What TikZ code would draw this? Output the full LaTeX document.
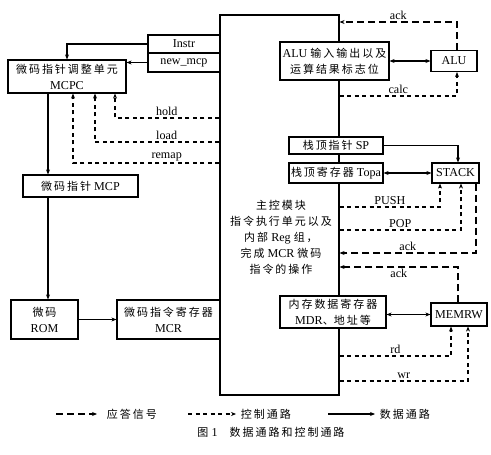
\documentclass[tikz,border=0pt]{standalone}
\usepackage{fontspec}
\setmainfont{Liberation Serif}[Scale=1.1]
\newfontfamily\zhfont[LetterSpace=18]{Noto Sans CJK SC}
\newfontfamily\zhtight{Noto Sans CJK SC}
\newcommand\zh[1]{{\zhfont #1}}
\usetikzlibrary{arrows.meta}
\tikzset{
  box/.style={draw, line width=1.2pt, fill=white, inner sep=0pt, align=center},
  data/.style={line width=1.1pt, -{Stealth[length=5pt,width=4pt]}},
  ctrl/.style={line width=1.1pt, dash pattern=on 4pt off 3.5pt, -{Stealth[length=5pt,width=4pt]}},
  resp/.style={line width=1.1pt, dash pattern=on 7pt off 4pt, -{Stealth[length=5pt,width=4pt]}},
  both/.style={line width=1.1pt, {Stealth[length=5pt,width=4pt]}-{Stealth[length=5pt,width=4pt]}},
  lbl/.style={font=\fontsize{11}{12}\selectfont, inner sep=1.5pt}
}
\begin{document}
\begin{tikzpicture}[x=1pt, y=-1pt, font=\fontsize{11}{16}\selectfont]
  \useasboundingbox (0,0) rectangle (491,455);
  \node[box, minimum width=119pt, minimum height=380pt] (main) at (279.5,205) {};
  \node[align=center] (maintext) at (281,237)
    {\zh{主控模块}\\ \zh{指令执行单元以及}\\ \zh{内部} Reg \zh{组，}\\ \zh{完成} MCR \zh{微码}\\ \zh{指令的操作}};
  \node[box, minimum width=72pt, minimum height=18pt] (instr) at (184,44) {Instr};
  \node[box, minimum width=72pt, minimum height=19pt] (newmcp) at (184,62.5) {new\_mcp};
  \node[box, minimum width=118pt, minimum height=33pt] (mcpc) at (67,76.5) {\zh{微码指针调整单元}\\ MCPC};
  \node[box, minimum width=115pt, minimum height=22pt] (mcp) at (80.5,186) {\zh{微码指针} MCP};
  \node[box, minimum width=67pt, minimum height=39pt] (rom) at (44.5,319.5) {\zh{微码}\\ ROM};
  \node[box, minimum width=103pt, minimum height=39pt] (mcr) at (168.5,319.5) {\zh{微码指令寄存器}\\ MCR};
  \node[box, minimum width=109pt, minimum height=38pt] (aluio) at (334.5,61) {ALU \zh{输入输出以及}\\ \zh{运算结果标志位}};
  \node[box, minimum width=46pt, minimum height=21pt] (alu) at (454,61) {ALU};
  \node[box, minimum width=94pt, minimum height=17pt] (sp) at (336,145.5) {\zh{栈顶指针} SP};
  \node[box, minimum width=94pt, minimum height=20pt] (topa) at (336,173) {\zh{栈顶寄存器} Topa};
  \node[box, minimum width=47pt, minimum height=20pt] (stack) at (455.5,173) {STACK};
  \node[box, minimum width=106pt, minimum height=32pt] (mdr) at (333,312) {\zh{内存数据寄存器}\\ MDR{\zhtight 、}\zh{地址等}};
  \node[box, minimum width=56pt, minimum height=23pt] (memrw) at (459,314.5) {MEMRW};
  \coordinate (cHold) at (main.west |- 0,118);
  \coordinate (cLoad) at (main.west |- 0,142);
  \coordinate (cRemap) at (main.west |- 0,163);
  \coordinate (aAck) at (main.east |- 0,22);
  \coordinate (aCalc) at (main.east |- 0,96);
  \coordinate (sPush) at (main.east |- 0,207);
  \coordinate (sPop) at (main.east |- 0,230);
  \coordinate (sAck) at (main.east |- 0,253);
  \coordinate (mAck) at (main.east |- 0,267);
  \coordinate (mRd) at (main.east |- 0,356);
  \coordinate (mWr) at (main.east |- 0,381);
  \begin{scope}
    \draw[data] (instr.west) -| (mcpc.north);
    \draw[data] (newmcp.west) -- (newmcp.west -| mcpc.east);
    \draw[ctrl] (cHold) -| node[lbl, above, pos=0.252] {hold} ([xshift=48pt]mcpc.south);
    \draw[ctrl] (cLoad) -| node[lbl, above, pos=0.212] {load} ([xshift=28pt]mcpc.south);
    \draw[ctrl] (cRemap) -| node[lbl, above, pos=0.18] {remap} ([xshift=6pt]mcpc.south);
    \draw[data] ([xshift=-19pt]mcpc.south) -- ([xshift=-32.5pt]mcp.north);
    \draw[data] ([xshift=-32.5pt]mcp.south) -- ([xshift=3.5pt]rom.north);
    \draw[data] (rom.east) -- (mcr.west);
    \draw[both] (aluio.east) -- (alu.west);
    \draw[resp] ([xshift=3pt]alu.north) |- node[lbl, above, pos=0.75] {ack} (aAck);
    \draw[ctrl] (aCalc) -| node[lbl, above, pos=0.25] {calc} ([xshift=3pt]alu.south);
    \draw[data] (sp.east) -| ([xshift=2.5pt]stack.north);
    \draw[both] (topa.east) -- (stack.west);
    \draw[ctrl] (sPush) -| node[lbl, above, pos=0.25] {PUSH} ([xshift=-15.5pt]stack.south);
    \draw[ctrl] (sPop) -| node[lbl, above, pos=0.25] {POP} ([xshift=5.5pt]stack.south);
    \draw[resp] ([xshift=20.5pt]stack.south) |- node[lbl, above, pos=0.75] {ack} (sAck);
    \draw[both] (mdr.east |- memrw.west) -- (memrw.west);
    \draw[resp] ([xshift=-1pt]memrw.north) |- node[lbl, below, pos=0.75] {ack} (mAck);
    \draw[ctrl] (mRd) -| node[lbl, above, pos=0.25] {rd} ([xshift=-8pt]memrw.south);
    \draw[ctrl] (mWr) -| node[lbl, above, pos=0.25] {wr} ([xshift=9pt]memrw.south);
  \end{scope}
  \coordinate (g1) at (56,414);
  \coordinate (g2) at (97,414);
  \coordinate (g3) at (188,414);
  \coordinate (g4) at (236,414);
  \coordinate (g5) at (328,414);
  \coordinate (g6) at (375,414);
  \draw[resp] (g1) -- (g2);
  \draw[ctrl] (g3) -- (g4);
  \draw[data] (g5) -- (g6);
  \node[anchor=west] (respText) at (103,414) {\zh{应答信号}};
  \node[anchor=west] (ctrlText) at (237,414) {\zh{控制通路}};
  \node[anchor=west] (dataText) at (376,414) {\zh{数据通路}};
  \node (caption) at (271,432) {\zh{图} 1\quad\zh{数据通路和控制通路}};
\end{tikzpicture}
\end{document}
